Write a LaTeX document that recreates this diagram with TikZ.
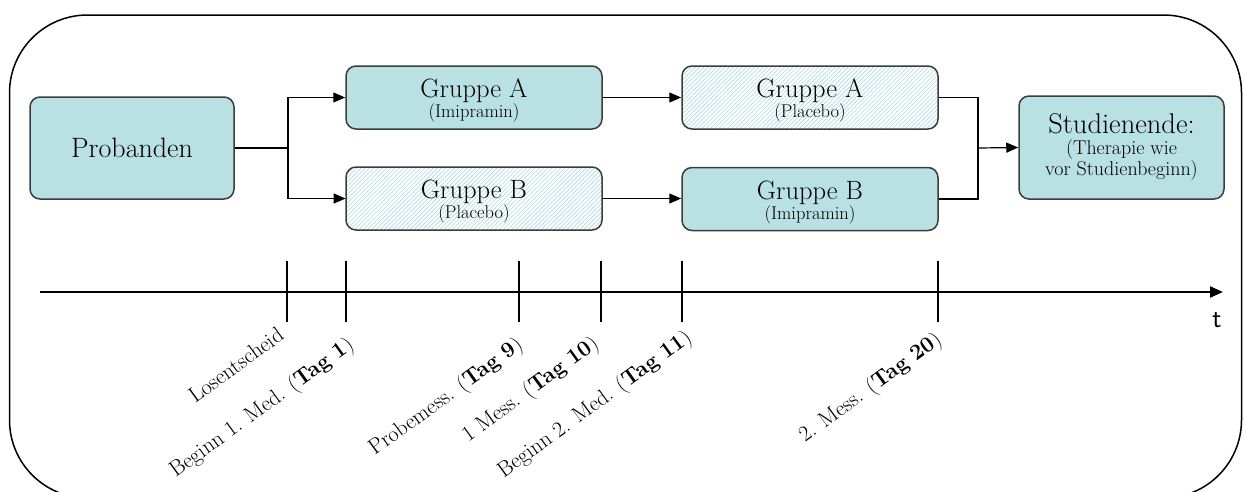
\documentclass[tikz,border=0pt]{standalone}
\usepackage{fontspec}
\usetikzlibrary{arrows.meta,patterns.meta}

\definecolor{boxfill}{RGB}{185,224,227}
\definecolor{boxline}{RGB}{60,60,60}
\definecolor{hatch}{RGB}{185,222,228}

\tikzset{
  stage/.style={rounded corners=10pt, draw=boxline, line width=1.5pt,
    minimum height=63pt, minimum width=256pt, align=center, inner sep=0pt,
    font=\fontsize{18.5}{20}\selectfont},
  drug/.style={stage, fill=boxfill},
  placebo/.style={stage, pattern={Lines[angle=45,distance=3pt,line width=0.8pt]}, pattern color=hatch},
  link/.style={line width=1.2pt},
  arr/.style={link, -{Triangle[length=12pt,width=10pt]}},
  tickline/.style={line width=1.2pt},
  ticklabel/.style={rotate=36, anchor=east, inner sep=0pt,
    font=\fontsize{22}{25}\selectfont},
}
% title line (with a strut for vertical balance) over a smaller subtitle
\newcommand{\boxtitle}[2]{\rule{0pt}{25.5pt}{\fontsize{26.5}{28}\selectfont #1}\\#2}

\begin{document}
\begin{tikzpicture}[x=1pt,y=-1pt]
\useasboundingbox (0,0) rectangle (1244,491);

% outer frame
\draw[line width=1.5pt, rounded corners=78pt] (9.5,15) rectangle (1241.5,498);

% study arms
\node[drug, minimum width=204pt, minimum height=102pt, font=\fontsize{28}{30}\selectfont] (prob) at (132,148) {Probanden};
\node[drug] (a1) at (474,97.5) {\boxtitle{Gruppe A}{(Imipramin)}};
\node[placebo] (b1) at (474,198.5) {\boxtitle{Gruppe B}{(Placebo)}};
\node[placebo] (a2) at (810,97.5) {\boxtitle{Gruppe A}{(Placebo)}};
\node[drug] (b2) at (810,199) {\boxtitle{Gruppe B}{(Imipramin)}};
\node[drug, minimum width=205pt, minimum height=103pt, font=\fontsize{20}{21}\selectfont] (end) at (1121.5,147.5)
  {{\fontsize{28.5}{30}\selectfont Studienende:}\\(Therapie wie\\vor Studienbeginn)};

% connectors
\coordinate (split) at (288,148);
\coordinate (join) at (978,148);
\draw[link] (prob.east) -- (split);
\draw[arr] (split) |- (a1.west);
\draw[arr] (split) |- (b1.west);
\draw[arr] (a1.east) -- (a2.west);
\draw[arr] (b1.east) -- (b1.east -| b2.west);
\draw[link] (a2.east) -| (join);
\draw[link] (b2.east) -| (join);
\draw[arr] (join) -- (end.west);

% time axis
\coordinate (t0) at (40,292);
\coordinate (t1) at (1223,292);
\draw[line width=2pt, -{Triangle[length=13pt,width=11pt]}] (t0) -- (t1);
\node[font=\sffamily\fontsize{27}{29}\selectfont] (tlabel) at (1217,320) {t};

\foreach \name/\x in {k1/287,k2/346,k3/519,k4/601,k5/682,k6/938}{
  \coordinate (\name top) at (\x,261);
  \coordinate (\name bot) at (\x,322);
  \draw[tickline] (\name top) -- (\name bot);
}

\node[ticklabel] (l1) at (281,332) {Losentscheid};
\node[ticklabel] (l2) at (352,343) {Beginn 1. Med. (\textbf{Tag 1})};
\node[ticklabel] (l3) at (521,343) {Probemess. (\textbf{Tag 9})};
\node[ticklabel] (l4) at (597,342) {1 Mess. (\textbf{Tag 10})};
\node[ticklabel] (l5) at (690,336) {Beginn 2. Med. (\textbf{Tag 11})};
\node[ticklabel] (l6) at (940,338) {2. Mess. (\textbf{Tag 20})};
\end{tikzpicture}
\end{document}
